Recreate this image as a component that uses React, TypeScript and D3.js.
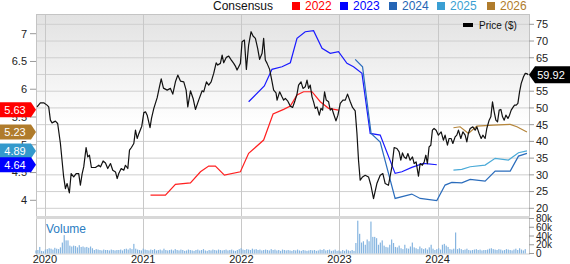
import React from "react";
import * as d3 from "d3";

// ---------- data ----------
const priceT = [2019.92, 2019.954, 2019.988, 2020.022, 2020.039, 2020.056, 2020.073, 2020.107, 2020.13, 2020.158, 2020.191, 2020.209, 2020.226, 2020.249, 2020.267, 2020.293, 2020.318, 2020.344, 2020.361, 2020.379, 2020.395, 2020.419, 2020.436, 2020.453, 2020.473, 2020.514, 2020.548, 2020.565, 2020.592, 2020.616, 2020.639, 2020.667, 2020.69, 2020.718, 2020.735, 2020.751, 2020.776, 2020.802, 2020.819, 2020.843, 2020.86, 2020.88, 2020.904, 2020.921, 2020.938, 2020.955, 2020.985, 2021.006, 2021.023, 2021.04, 2021.069, 2021.084, 2021.107, 2021.142, 2021.165, 2021.183, 2021.206, 2021.244, 2021.277, 2021.301, 2021.328, 2021.352, 2021.379, 2021.413, 2021.437, 2021.454, 2021.481, 2021.508, 2021.532, 2021.565, 2021.6, 2021.616, 2021.644, 2021.667, 2021.692, 2021.718, 2021.743, 2021.759, 2021.786, 2021.804, 2021.82, 2021.847, 2021.871, 2021.898, 2021.922, 2021.939, 2021.956, 2021.973, 2021.99, 2022.007, 2022.031, 2022.051, 2022.074, 2022.099, 2022.119, 2022.143, 2022.166, 2022.186, 2022.211, 2022.227, 2022.244, 2022.262, 2022.288, 2022.313, 2022.329, 2022.353, 2022.364, 2022.39, 2022.414, 2022.431, 2022.448, 2022.471, 2022.499, 2022.522, 2022.543, 2022.567, 2022.583, 2022.608, 2022.628, 2022.651, 2022.669, 2022.685, 2022.702, 2022.72, 2022.736, 2022.753, 2022.771, 2022.794, 2022.811, 2022.828, 2022.848, 2022.865, 2022.889, 2022.906, 2022.923, 2022.939, 2022.964, 2022.984, 2023.008, 2023.035, 2023.059, 2023.082, 2023.11, 2023.133, 2023.16, 2023.178, 2023.194, 2023.211, 2023.235, 2023.262, 2023.296, 2023.32, 2023.347, 2023.381, 2023.415, 2023.442, 2023.466, 2023.499, 2023.534, 2023.557, 2023.585, 2023.608, 2023.625, 2023.642, 2023.659, 2023.679, 2023.697, 2023.72, 2023.744, 2023.761, 2023.781, 2023.805, 2023.822, 2023.845, 2023.863, 2023.88, 2023.896, 2023.913, 2023.931, 2023.947, 2023.964, 2023.985, 2024.008, 2024.036, 2024.059, 2024.076, 2024.1, 2024.117, 2024.137, 2024.155, 2024.178, 2024.195, 2024.212, 2024.236, 2024.257, 2024.28, 2024.297, 2024.313, 2024.331, 2024.358, 2024.382, 2024.399, 2024.422, 2024.443, 2024.46, 2024.483, 2024.5, 2024.524, 2024.541, 2024.558, 2024.575, 2024.592, 2024.609, 2024.626, 2024.643, 2024.66, 2024.677, 2024.694, 2024.715, 2024.731, 2024.748, 2024.766, 2024.782, 2024.799, 2024.816, 2024.833, 2024.85, 2024.873, 2024.891, 2024.906, 2024.921];
const priceV = [50.33, 51.53, 51.53, 50.84, 50.33, 46.35, 45.54, 46.05, 45.36, 39.37, 29.37, 25.9, 27.4, 24.58, 30.39, 29.37, 30.39, 30.39, 26.89, 30.39, 32.37, 38.17, 35.36, 35.87, 32.19, 32.19, 32.87, 32.37, 34.16, 33.56, 31.89, 33.38, 31.38, 30.87, 28.9, 30.39, 31.89, 31.38, 32.87, 31.89, 37.37, 38.17, 39.37, 43.35, 40.87, 42.31, 44.55, 48.59, 48.83, 47.84, 44.1, 46.86, 49.79, 53.08, 56.32, 58.68, 55.93, 55.33, 55.84, 54.13, 57.81, 59.82, 58.02, 57.81, 55.33, 50.33, 55.12, 52.84, 49.55, 52.34, 55.12, 54.82, 57.81, 56.83, 57.81, 60.33, 63.5, 62.81, 63.32, 65.81, 63.5, 65.12, 65.51, 64.31, 63.32, 62.51, 61.32, 62.31, 63.32, 69.79, 70.3, 61.53, 68.8, 72.78, 71.5, 70.81, 67.81, 64.52, 66.32, 70.81, 64.31, 63.32, 61.53, 57.81, 55.33, 54.52, 52.34, 54.82, 53.32, 52.34, 52.84, 52.13, 50.54, 50.15, 51.83, 54.13, 56.83, 57.81, 55.84, 56.32, 58.32, 55.84, 56.83, 53.32, 51.83, 49.85, 50.33, 47.84, 49.85, 49.34, 54.82, 52.34, 51.83, 49.34, 49.85, 48.35, 46.14, 47.84, 51.35, 52.34, 52.34, 54.13, 51.83, 50.15, 49.13, 42.37, 34.37, 28.38, 29.37, 29.88, 29.37, 26.89, 22.9, 27.4, 29.88, 30.39, 27.4, 26.89, 32.37, 38.17, 37.87, 36.86, 34.37, 36.56, 35.36, 34.88, 36.38, 34.37, 35.36, 33.38, 33.86, 29.58, 33.38, 32.87, 33.86, 35.87, 33.38, 38.35, 38.86, 43.35, 43.86, 43.35, 41.86, 42.84, 40.36, 41.86, 38.86, 40.87, 40.87, 39.37, 41.35, 41.86, 43.35, 40.87, 42.84, 41.86, 39.85, 42.37, 43.86, 44.34, 43.35, 44.34, 42.37, 40.87, 41.86, 40.87, 43.86, 46.35, 47.34, 51.83, 48.83, 46.35, 45.84, 49.34, 49.55, 47.34, 46.35, 47.84, 46.86, 47.84, 49.34, 50.15, 50.84, 50.84, 51.35, 54.82, 57.34, 59.31, 60.33, 60.27, 59.92];

const eps2022T = [2021.074, 2021.226, 2021.328, 2021.481, 2021.583, 2021.667, 2021.735, 2021.827, 2021.99, 2022.074, 2022.227, 2022.323, 2022.431, 2022.499, 2022.567, 2022.634, 2022.72, 2022.804, 2022.889, 2022.99];
const eps2022V = [4.094, 4.094, 4.286, 4.315, 4.514, 4.616, 4.616, 4.454, 4.514, 4.845, 5.085, 5.553, 5.638, 5.697, 5.895, 5.955, 5.955, 5.775, 5.656, 5.625];

const eps2023T = [2022.074, 2022.234, 2022.312, 2022.414, 2022.499, 2022.567, 2022.651, 2022.736, 2022.822, 2022.906, 2022.99, 2023.076, 2023.143, 2023.229, 2023.313, 2023.415, 2023.567, 2023.636, 2023.737, 2023.855, 2023.992];
const eps2023V = [5.775, 6.058, 6.359, 6.405, 6.477, 6.917, 7.036, 7.054, 6.737, 6.647, 6.676, 6.467, 6.405, 6.286, 5.205, 5.175, 4.485, 4.514, 4.593, 4.665, 4.64];

const eps2024T = [2023.16, 2023.235, 2023.322, 2023.415, 2023.567, 2023.737, 2023.822, 2023.992, 2024.076, 2024.144, 2024.246, 2024.331, 2024.483, 2024.585, 2024.738, 2024.822, 2024.908];
const eps2024V = [6.539, 6.405, 5.205, 5.049, 4.034, 4.112, 4.034, 3.995, 4.274, 4.323, 4.315, 4.377, 4.346, 4.526, 4.526, 4.796, 4.845];

const eps2025T = [2024.161, 2024.246, 2024.331, 2024.483, 2024.585, 2024.72, 2024.822, 2024.908];
const eps2025V = [4.544, 4.557, 4.604, 4.634, 4.755, 4.724, 4.856, 4.89];

const eps2026T = [2024.161, 2024.229, 2024.313, 2024.399, 2024.568, 2024.738, 2024.806, 2024.908];
const eps2026V = [5.306, 5.324, 5.205, 5.337, 5.355, 5.368, 5.324, 5.23];

// weekly volume (thousands), first week 2019-11-29
const volumeStart = "2019-11-29";
const volumeK = [
  7, 8, 15, 6, 5,
  9, 10, 12, 11, 9, 13, 11, 10, 14,
  25, 42, 30, 30, 18,
  16, 18, 17, 14, 19, 15, 16, 14, 15, 13, 16, 12,
  8, 10, 9, 8, 7, 9, 8, 8, 7, 9, 8, 7, 8,
  8, 9, 7, 10, 11, 9, 12, 10, 22, 11, 9, 8, 7,
  11, 9, 8, 7, 9, 8, 10, 7, 8, 9, 7, 11, 8,
  7, 8, 9, 7, 10, 8, 7, 9, 8, 6, 7, 9, 8,
  7, 6, 8, 9, 7, 8, 10, 7, 6, 8, 7, 9, 8,
  7, 9, 8, 7, 8, 9, 7, 8, 9, 7, 6, 8, 10,
  12, 9, 8, 10, 9, 8, 11, 9, 10, 8, 9, 7, 8,
  9, 8, 7, 10, 8, 9, 7, 8, 6, 9, 8, 7, 8,
  7, 6, 8, 7, 9, 7, 6, 8, 7, 6, 7, 8, 7,
  8, 6, 7, 9, 8, 10, 7, 8, 9, 6, 7, 9, 6,
  7, 5, 8, 6, 9, 7, 6, 8, 6, 24, 75, 45, 25,
  28, 20, 32, 28, 73, 38, 38, 35, 20, 25, 30, 18, 15,
  14, 20, 32, 24, 15, 14, 18, 12, 10, 20, 12, 11, 16,
  25, 14, 12, 10, 16, 12, 10, 12, 9, 14, 20, 11, 8,
  10, 12, 9, 20, 22, 18, 15, 10, 9, 11, 48, 10, 12,
  10, 8, 9, 11, 8, 7, 8, 9, 10, 8, 9, 7, 8,
  8, 9, 11, 12, 10, 9, 8, 10, 9, 7, 8, 10, 9,
  8, 7, 9, 11, 8, 12, 9, 7, 10,
];

const rightTicks = [20, 25, 30, 35, 40, 45, 50, 55, 60, 65, 70, 75];
const leftTicks = [4, 4.5, 5, 5.5, 6, 6.5, 7];
const volTicks = [0, 20, 40, 60, 80];
const volTickLabels = ["0", "20k", "40k", "60k", "80k"];
const yearTicks = [2020, 2021, 2022, 2023, 2024];
const legendYears = ["2022", "2023", "2024", "2025", "2026"];
const legendColors = ["#ff0000", "#0000ff", "#2565b5", "#3a9fd3", "#b07c2c"];
const tagValues = [5.63, 5.23, 4.89, 4.64];
const tagColors = ["#ff0000", "#b07c2c", "#3399cc", "#0000ff"];
const lastPrice = 59.92;

function decYear(t: number): Date {
  const y = Math.floor(t);
  const a = Date.UTC(y, 0, 1);
  const b = Date.UTC(y + 1, 0, 1);
  return new Date(a + (t - y) * (b - a));
}

const FONT = "Arial, 'Liberation Sans', Helvetica, sans-serif";

export default function App() {
  const W = 570, H = 264;
  const L = 36, R = 529, PT = 14, PB = 216, VT = 219, VB = 253.5;

  const x = d3.scaleUtc()
    .domain([new Date(Date.UTC(2019, 10, 29)), new Date(Date.UTC(2024, 11, 6))])
    .range([L, R]);
  const yP = d3.scaleLinear().domain([20, 75]).range([208.3, 24.3]);
  const yE = d3.scaleLinear().domain([4, 7]).range([200.3, 33.7]);
  const yV = d3.scaleLinear().domain([0, 80]).range([VB, 218.5]);

  const zip = (ts: number[], vs: number[]) =>
    ts.slice(0, Math.min(ts.length, vs.length)).map((t, i) => [decYear(t), vs[i]] as [Date, number]);

  const lineP = d3.line<[Date, number]>().x(d => x(d[0])).y(d => yP(d[1]));
  const lineE = d3.line<[Date, number]>().x(d => x(d[0])).y(d => yE(d[1]));

  const epsSeries = [
    { data: zip(eps2022T, eps2022V), color: "#ff2020" },
    { data: zip(eps2023T, eps2023V), color: "#1a1aff" },
    { data: zip(eps2024T, eps2024V), color: "#2a6cbc" },
    { data: zip(eps2025T, eps2025V), color: "#4aaad8" },
    { data: zip(eps2026T, eps2026V), color: "#b5853a" },
  ];

  const v0 = new Date(volumeStart + "T00:00:00Z").getTime();
  const vol = volumeK.map((v, i) => ({ d: new Date(v0 + i * 7 * 864e5), v }));

  const pY = yP(lastPrice);
  const legendSqX = [292, 340, 389, 437, 487];

  return (
    <svg width={W} height={H} style={{ position: "absolute", left: 0, top: 0, fontFamily: FONT }}>
      <defs>
        <linearGradient id="bg" x1="0" y1="0" x2="0" y2="1">
          <stop offset="0%" stopColor="#e2e2e2" />
          <stop offset="55%" stopColor="#ffffff" />
          <stop offset="100%" stopColor="#ffffff" />
        </linearGradient>
      </defs>
      <rect x={0} y={0} width={W} height={H} fill="#fff" />
      <rect x={L} y={PT} width={R - L} height={PB - PT} fill="url(#bg)" />
      <rect x={L} y={VT} width={R - L} height={VB - VT} fill="#fff" />

      {/* horizontal gridlines */}
      {rightTicks.map(t => (
        <line key={"h" + t} x1={L} x2={R} y1={yP(t)} y2={yP(t)} stroke="#cfcfcf" strokeWidth={1} />
      ))}
      {/* vertical gridlines */}
      {yearTicks.map(yr => {
        const xx = Math.round(x(new Date(Date.UTC(yr, 0, 1)))) + 0.5;
        return <line key={"v" + yr} x1={xx} x2={xx} y1={PT} y2={VB + 1} stroke="#c8c8c8" strokeWidth={1} />;
      })}
      {/* frame */}
      <line x1={L} x2={R} y1={PT + 0.5} y2={PT + 0.5} stroke="#c4c4c4" />
      <line x1={L + 0.5} x2={L + 0.5} y1={PT} y2={VB + 1} stroke="#c4c4c4" />
      <line x1={R + 0.5} x2={R + 0.5} y1={PT} y2={VB + 1} stroke="#c4c4c4" />
      <rect x={L} y={PB} width={R - L + 1} height={3} fill="#d8d8d8" />
      <line x1={L} x2={R} y1={VB + 0.5} y2={VB + 0.5} stroke="#d0d0d0" />

      {/* volume bars */}
      {vol.map((b, i) => (
        <rect key={"b" + i} x={x(b.d) - 0.6} y={yV(b.v)} width={1.2} height={VB - yV(b.v)} fill="#86b5e0" />
      ))}
      <text x={46} y={233} fontSize={12} fill="#2b7dc2">Volume</text>

      {/* consensus lines */}
      {epsSeries.map((s, i) => (
        <path key={"e" + i} d={lineE(s.data) || ""} fill="none" stroke={s.color} strokeWidth={1.2} />
      ))}

      {/* price line */}
      <path d={lineP(zip(priceT, priceV)) || ""} fill="none" stroke="#111" strokeWidth={1.2} strokeLinejoin="round" />

      {/* right axis */}
      {rightTicks.map(t => (
        <g key={"r" + t}>
          <line x1={R} x2={R + 5} y1={yP(t)} y2={yP(t)} stroke="#999" />
          <text x={R + 7} y={yP(t)} dy="0.35em" fontSize={11} fill="#222">{t}</text>
        </g>
      ))}
      {volTicks.map((t, i) => (
        <g key={"vt" + t}>
          <line x1={R} x2={R + 5} y1={yV(t)} y2={yV(t)} stroke="#999" />
          <text x={R + 7} y={yV(t)} dy="0.35em" fontSize={10} fill="#222">{volTickLabels[i]}</text>
        </g>
      ))}
      {/* left axis */}
      {leftTicks.map(t => (
        <g key={"l" + t}>
          <line x1={30} x2={L} y1={yE(t)} y2={yE(t)} stroke="#999" />
          <text x={27} y={yE(t)} dy="0.35em" fontSize={11} textAnchor="end" fill="#222">{t}</text>
        </g>
      ))}
      {/* x axis labels */}
      {yearTicks.map(yr => (
        <text key={"x" + yr} x={x(new Date(Date.UTC(yr, 0, 1)))} y={263} fontSize={11} textAnchor="middle" fill="#222">{yr}</text>
      ))}

      {/* left tags */}
      {tagValues.map((v, i) => {
        const yy = yE(v);
        return (
          <g key={"tag" + i}>
            <path d={`M0,${yy - 7.5}H31L36,${yy}L31,${yy + 7.5}H0Z`} fill={tagColors[i]} />
            <text x={15} y={yy} dy="0.35em" fontSize={11} textAnchor="middle" fill="#fff">{v.toFixed(2)}</text>
          </g>
        );
      })}

      {/* last price tag */}
      <path d={`M${R},${pY}L${R + 6},${pY - 8.5}H${W}V${pY + 8.5}H${R + 6}Z`} fill="#000" />
      <text x={551} y={pY} dy="0.35em" fontSize={11} textAnchor="middle" fill="#fff">{lastPrice.toFixed(2)}</text>

      {/* legends */}
      <text x={213} y={10} fontSize={12} fill="#111">Consensus</text>
      {legendYears.map((yr, i) => (
        <g key={"lg" + yr}>
          <rect x={legendSqX[i]} y={2} width={8} height={8} fill={legendColors[i]} />
          <text x={legendSqX[i] + 13} y={10} fontSize={12} fill={legendColors[i]}>{yr}</text>
        </g>
      ))}
      <rect x={463} y={23} width={10} height={4} fill="#000" />
      <text x={479} y={25} dy="0.35em" fontSize={10} fill="#111">Price ($)</text>
    </svg>
  );
}
